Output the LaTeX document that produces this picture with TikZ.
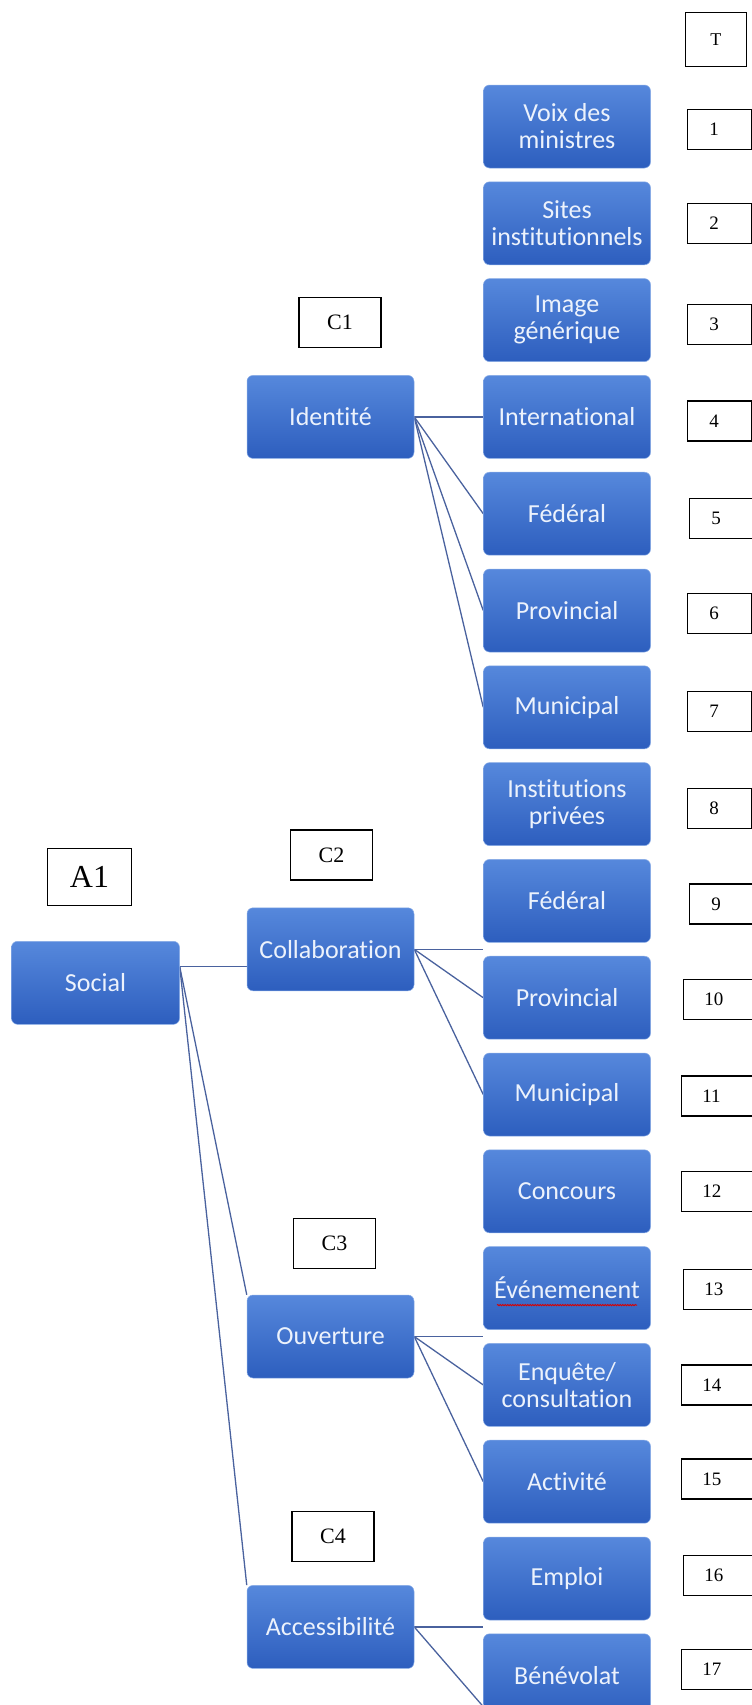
\documentclass[tikz,border=0pt]{standalone}
\usepackage{fontspec}
\setmainfont{Liberation Serif}
\newfontfamily\boxfont[RawFeature={-liga;-clig;-dlig;-calt;-rlig}]{Carlito}
\usepackage{tikz}
\usetikzlibrary{positioning}
\usetikzlibrary{calc}
\usetikzlibrary{decorations.pathmorphing}
\pgfdeclarelayer{linkbg}
\pgfsetlayers{linkbg,main}
\definecolor{boxtop}{RGB}{86,136,220}
\definecolor{boxbot}{RGB}{45,94,190}
\definecolor{boxtext}{RGB}{236,242,252}
\definecolor{linkcol}{RGB}{74,98,158}
\tikzset{
	topic/.style={rectangle, rounded corners=6pt, top color=boxtop, bottom color=boxbot, draw=boxtop!70!white, line width=0.5pt, text=boxtext, font=\boxfont\fontsize{26}{27}\selectfont, align=center, minimum width=167pt, minimum height=83pt, inner sep=2pt},
	tag/.style={rectangle, draw=black, line width=1.2pt, fill=white, font=\fontsize{22}{24}\selectfont, minimum width=82pt, minimum height=50pt, inner sep=0pt},
	numtag/.style={rectangle, draw=black, line width=1.2pt, fill=white, font=\fontsize{19}{20}\selectfont, minimum height=40pt, inner xsep=22pt, inner ysep=0pt, align=left, text width=20pt},
	numwide/.style={numtag, inner xsep=21pt, text width=30pt},
	link/.style={draw=linkcol, line width=1.3pt},
}

\begin{document}
\begin{tikzpicture}
	\useasboundingbox (0,0) rectangle (752pt,-1705pt);
	
	% Level 3 column
	\node [topic] at (567pt,-126.5pt) (3Voix) {Voix des\\ministres};
	\node [topic, below=13.3pt of 3Voix] (3Sites) {Sites\\institutionnels};
	\node [topic, below=13.3pt of 3Sites] (3Image) {Image\\générique};
	\node [topic, below=13.3pt of 3Image] (3Intl) {International};
	\node [topic, below=13.3pt of 3Intl] (3FedA) {Fédéral};
	\node [topic, below=13.3pt of 3FedA] (3ProvA) {Provincial};
	\node [topic, below=13.3pt of 3ProvA] (3MunA) {Municipal};
	\node [topic, below=13.3pt of 3MunA] (3Inst) {Institutions\\privées};
	\node [topic, below=13.3pt of 3Inst] (3FedB) {Fédéral};
	\node [topic, below=13.3pt of 3FedB] (3ProvB) {Provincial};
	\node [topic, below=13.3pt of 3ProvB] (3MunB) {Municipal};
	\node [topic, below=13.3pt of 3MunB] (3Conc) {Concours};
	\node [topic, below=13.3pt of 3Conc] (3Evt) {Événemenent};
	\node [topic, below=13.3pt of 3Evt] (3Enq) {Enquête/\\consultation};
	\node [topic, below=13.3pt of 3Enq] (3Act) {Activité};
	\node [topic, below=13.3pt of 3Act] (3Empl) {Emploi};
	\node [topic, below=13.3pt of 3Empl] (3Benev) {Bénévolat};
	\draw [red!85!black, line width=0.8pt, decorate, decoration={snake, amplitude=0.7pt, segment length=2.5pt}] ([shift={(-70pt,-17pt)}]3Evt.center) -- ([shift={(70pt,-17pt)}]3Evt.center);
	
	% Levels 1 and 2
	\coordinate (gapB) at ($(3FedB.west)!0.5!(3ProvB.west)$);
	\coordinate (gapC) at ($(3Evt.west)!0.5!(3Enq.west)$);
	\coordinate (gapD) at ($(3Empl.west)!0.5!(3Benev.west)$);
	\node [topic, left=69pt of 3Intl] (2Ident) {Identité};
	\node [topic, left=69pt of gapB] (2Collab) {Collaboration};
	\node [topic, left=69pt of gapC] (2Ouv) {Ouverture};
	\node [topic, left=69pt of gapD] (2Acc) {Accessibilité};
	\node [topic, minimum width=168pt, left=67pt of 2Collab, yshift=-33.5pt] (1Social) {Social};
	
	% Tags
	\node [tag, font=\fontsize{32}{34}\selectfont, minimum width=84pt, minimum height=57pt, above=35pt of 1Social, xshift=-6pt] (tagA1) {A1};
	\node [tag, above=27pt of 2Ident, xshift=9.5pt] (tagC1) {C1};
	\node [tag, above=27pt of 2Collab, xshift=1pt] (tagC2) {C2};
	\node [tag, above=26pt of 2Ouv, xshift=4pt] (tagC3) {C3};
	\node [tag, above=23pt of 2Acc, xshift=2.5pt] (tagC4) {C4};
	
	% Numbers
	\node [numtag, right=36pt of 3Voix, yshift=-3pt] (4n1) {1};
	\node [numtag, right=36pt of 3Sites] (4n2) {2};
	\node [numtag, right=36pt of 3Image, yshift=-4pt] (4n3) {3};
	\node [numtag, right=36pt of 3Intl, yshift=-4pt] (4n4) {4};
	\node [numtag, right=38pt of 3FedA, yshift=-5pt] (4n5) {5};
	\node [numtag, right=36pt of 3ProvA, yshift=-3pt] (4n6) {6};
	\node [numtag, right=36pt of 3MunA, yshift=-4pt] (4n7) {7};
	\node [numtag, right=36pt of 3Inst, yshift=-4pt] (4n8) {8};
	\node [numtag, right=38pt of 3FedB, yshift=-3pt] (4n9) {9};
	\node [numwide, right=32pt of 3ProvB, yshift=-2pt] (4n10) {10};
	\node [numwide, right=30pt of 3MunB, yshift=-1.5pt] (4n11) {11};
	\node [numwide, right=30pt of 3Conc] (4n12) {12};
	\node [numwide, right=32pt of 3Evt, yshift=-1pt] (4n13) {13};
	\node [numwide, right=30pt of 3Enq] (4n14) {14};
	\node [numwide, right=30pt of 3Act, yshift=2.7pt] (4n15) {15};
	\node [numwide, right=32pt of 3Empl, yshift=3pt] (4n16) {16};
	\node [numwide, right=30pt of 3Benev, yshift=6pt] (4n17) {17};
	\node [tag, font=\fontsize{18}{20}\selectfont, minimum width=61pt, minimum height=54pt, above=42pt of 4n1, xshift=-3.5pt] (4T) {T};
	
	% Connections
	\begin{pgfonlayer}{linkbg}
	\draw [link] ([yshift=16pt]1Social.east) -- ([yshift=-17.5pt]2Collab.west);
	\draw [link] ([yshift=16pt]1Social.east) -- (2Ouv.north west);
	\draw [link] ([yshift=16pt]1Social.east) -- (2Acc.north west);
	\draw [link] (2Ident.east) -- (3Intl.west);
	\draw [link] (2Ident.east) -- (3FedA.west);
	\draw [link] (2Ident.east) -- (3ProvA.west);
	\draw [link] (2Ident.east) -- (3MunA.west);
	\draw [link] (2Collab.east) -- (gapB);
	\draw [link] (2Collab.east) -- (3ProvB.west);
	\draw [link] (2Collab.east) -- (3MunB.west);
	\draw [link] (2Ouv.east) -- (gapC);
	\draw [link] (2Ouv.east) -- (3Enq.west);
	\draw [link] (2Ouv.east) -- (3Act.west);
	\draw [link] (2Acc.east) -- (gapD);
	\draw [link] (2Acc.east) -- ($(3Benev.west)!0.75!(3Benev.south west)$);
	\end{pgfonlayer}
\end{tikzpicture}
\end{document}
